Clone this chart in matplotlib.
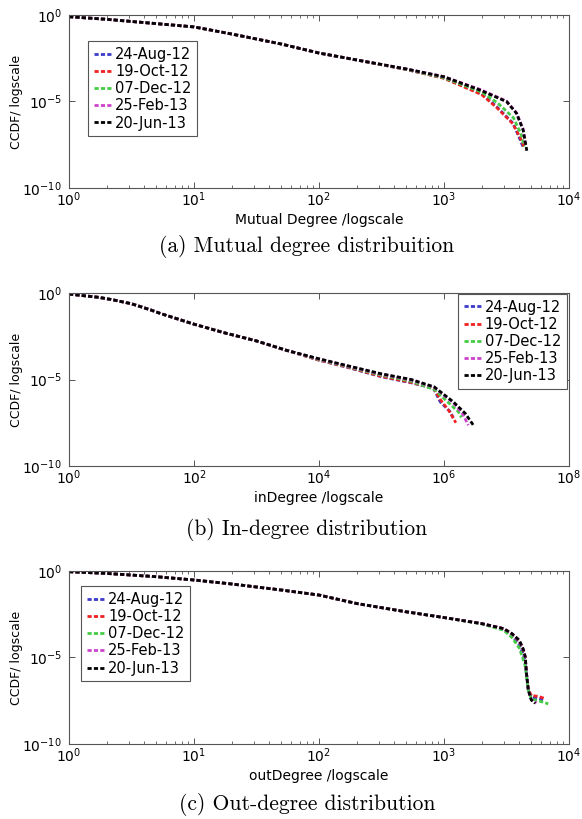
import numpy as np
import matplotlib
matplotlib.use('Agg')
from matplotlib import pyplot as plt
from matplotlib.ticker import LogLocator, NullLocator, FixedLocator

plt.rcParams['font.family'] = ['DejaVu Sans']
plt.rcParams['mathtext.default'] = 'regular'

dates = ['24-Aug-12', '19-Oct-12', '07-Dec-12', '25-Feb-13', '20-Jun-13']
colors = ['#3c3cc8', '#ee2222', '#44cc44', '#cc44cc', '#000000']

# (a) mutual degree, CCDF given as log10 values
mut_x_aug = [1, 2, 5, 10, 20, 50, 100, 200, 500, 1000, 2000, 2640, 3570, 4060, 4300]
mut_y_aug = [-0.1, -0.25, -0.5, -0.69, -1.1, -1.68, -2.2, -2.6, -3.15, -3.65, -4.55, -5.3, -6.26, -7.2, -7.65]
mut_x_oct = [1, 2, 5, 10, 20, 50, 100, 200, 500, 1000, 2000, 2640, 3570, 4100, 4350]
mut_y_oct = [-0.1, -0.25, -0.5, -0.69, -1.1, -1.68, -2.2, -2.6, -3.15, -3.66, -4.6, -5.35, -6.3, -7.15, -7.6]
mut_x_dec = [1, 2, 5, 10, 20, 50, 100, 200, 500, 1000, 2000, 2700, 3600, 4150, 4400]
mut_y_dec = [-0.1, -0.25, -0.5, -0.69, -1.1, -1.68, -2.2, -2.6, -3.14, -3.63, -4.45, -5.1, -5.95, -6.9, -7.6]
mut_x_feb = [1, 2, 5, 10, 20, 50, 100, 200, 500, 1000, 1940, 3170, 3800, 4300, 4500]
mut_y_feb = [-0.1, -0.25, -0.5, -0.69, -1.1, -1.68, -2.2, -2.6, -3.12, -3.57, -4.3, -4.98, -5.65, -6.6, -7.6]
mut_x_jun = [1, 2, 5, 10, 20, 50, 100, 200, 500, 1000, 1940, 3170, 3800, 4300, 4600]
mut_y_jun = [-0.1, -0.25, -0.5, -0.69, -1.1, -1.68, -2.2, -2.6, -3.12, -3.57, -4.34, -5.01, -5.68, -6.65, -7.85]

# (b) in-degree
in_x_aug = [1, 3, 5, 10, 20, 30, 100, 300, 1e3, 3e3, 1e4, 3e4, 1e5, 3e5, 6.8e5, 8.7e5, 1.26e6, 1.45e6]
in_y_aug = [-0.06, -0.25, -0.39, -0.62, -0.97, -1.2, -1.8, -2.29, -2.77, -3.31, -3.88, -4.32, -4.84, -5.19, -5.51, -6.29, -6.87, -7.3]
in_x_oct = [1, 3, 5, 10, 20, 30, 100, 300, 1e3, 3e3, 1e4, 3e4, 1e5, 3e5, 6.8e5, 8.9e5, 1.2e6, 1.55e6]
in_y_oct = [-0.06, -0.25, -0.39, -0.62, -0.97, -1.2, -1.8, -2.29, -2.77, -3.31, -3.88, -4.3, -4.82, -5.17, -5.5, -6.2, -6.8, -7.5]
in_x_dec = [1, 3, 5, 10, 20, 30, 100, 300, 1e3, 3e3, 1e4, 3e4, 1e5, 3e5, 7.2e5, 1.0e6, 1.7e6, 1.9e6]
in_y_dec = [-0.06, -0.25, -0.39, -0.62, -0.97, -1.2, -1.8, -2.29, -2.77, -3.31, -3.85, -4.27, -4.75, -5.1, -5.6, -6.1, -6.87, -7.19]
in_x_feb = [1, 3, 5, 10, 20, 30, 100, 300, 1e3, 3e3, 1e4, 3e4, 1e5, 3e5, 7e5, 8.1e5, 1.41e6, 2.0e6, 2.45e6]
in_y_feb = [-0.06, -0.25, -0.39, -0.62, -0.97, -1.2, -1.8, -2.29, -2.77, -3.31, -3.82, -4.24, -4.7, -5.03, -5.45, -5.65, -6.35, -7.0, -7.64]
in_x_jun = [1, 3, 5, 10, 20, 30, 100, 300, 1e3, 3e3, 1e4, 3e4, 1e5, 3e5, 7e5, 8.1e5, 1.41e6, 2.19e6, 2.95e6]
in_y_jun = [-0.06, -0.25, -0.39, -0.62, -0.97, -1.2, -1.8, -2.29, -2.77, -3.31, -3.8, -4.22, -4.67, -5.0, -5.43, -5.61, -6.29, -6.96, -7.64]

# (c) out-degree
out_x_aug = [1, 2, 5, 10, 20, 50, 100, 200, 500, 1000, 2000, 3000, 3500, 4000, 4300, 4470, 4570, 4730, 5000, 5600, 6200]
out_y_aug = [-0.04, -0.14, -0.33, -0.52, -0.75, -1.1, -1.39, -1.88, -2.36, -2.69, -3.04, -3.35, -3.72, -4.25, -4.8, -5.2, -5.95, -6.9, -7.3, -7.35, -7.45]
out_x_oct = [1, 2, 5, 10, 20, 50, 100, 200, 500, 1000, 2000, 3000, 3500, 4000, 4300, 4470, 4570, 4730, 5000, 5700, 6450]
out_y_oct = [-0.04, -0.14, -0.33, -0.52, -0.75, -1.1, -1.39, -1.88, -2.36, -2.69, -3.04, -3.34, -3.65, -4.05, -4.55, -5.0, -5.9, -6.85, -7.2, -7.25, -7.38]
out_x_dec = [1, 2, 5, 10, 20, 50, 100, 200, 500, 1000, 2000, 3000, 3500, 4000, 4300, 4470, 4570, 4730, 5000, 6000, 6830]
out_y_dec = [-0.04, -0.14, -0.33, -0.52, -0.75, -1.1, -1.39, -1.88, -2.36, -2.69, -3.06, -3.42, -3.85, -4.45, -5.1, -5.5, -6.1, -6.9, -7.4, -7.55, -7.68]
out_x_feb = [1, 2, 5, 10, 20, 50, 100, 200, 500, 1000, 2000, 3000, 3500, 4000, 4300, 4470, 4570, 4730, 5000, 5500]
out_y_feb = [-0.04, -0.14, -0.33, -0.52, -0.75, -1.1, -1.39, -1.88, -2.36, -2.69, -3.04, -3.33, -3.63, -4.02, -4.52, -4.97, -5.92, -6.88, -7.45, -7.62]
out_x_jun = [1, 2, 5, 10, 20, 50, 100, 200, 500, 1000, 2000, 3000, 3500, 4000, 4300, 4470, 4570, 4730, 5000, 5370]
out_y_jun = [-0.04, -0.14, -0.33, -0.52, -0.75, -1.1, -1.39, -1.88, -2.36, -2.69, -3.04, -3.33, -3.62, -4.0, -4.5, -4.95, -5.91, -6.88, -7.46, -7.65]


def draw_panel(ax, xs, ys, xlabel, xmax, xticks, minor, leg_loc, leg_anchor):
    for x, y, c, lab in zip(xs, ys, colors, dates):
        ax.plot(x, np.power(10.0, y), color=c, lw=2.0, ls=(0, (1.5, 0.8)), label=lab)
    ax.set_xscale('log')
    ax.set_yscale('log')
    ax.set_xlim(1, xmax)
    ax.set_ylim(1e-10, 1)
    ax.xaxis.set_major_locator(FixedLocator(xticks))
    if minor:
        ax.xaxis.set_minor_locator(LogLocator(base=10, subs=np.arange(2, 10)))
    else:
        ax.xaxis.set_minor_locator(NullLocator())
    ax.yaxis.set_major_locator(FixedLocator([1e-10, 1e-5, 1]))
    ax.yaxis.set_minor_locator(NullLocator())
    ax.tick_params(which='both', direction='in', top=True, right=True,
                   color='#555555', labelsize=10)
    ax.tick_params(which='major', length=4, width=0.7)
    ax.tick_params(axis='x', which='major', pad=2)
    ax.tick_params(axis='y', which='major', pad=5)
    ax.tick_params(which='minor', length=2, width=0.6)
    for s in ax.spines.values():
        s.set_color('#555555')
        s.set_linewidth(0.8)
    ax.set_xlabel(xlabel, fontsize=10)
    ax.xaxis.set_label_coords(0.5, -0.185)
    ax.xaxis.label.set_va('center')
    ax.set_ylabel('CCDF/ logscale', fontsize=9)
    ax.yaxis.set_label_coords(-0.105, 0.5)
    ax.yaxis.label.set_va('center')
    leg = ax.legend(loc=leg_loc, bbox_to_anchor=leg_anchor, borderaxespad=0,
                    fontsize=10.5, fancybox=False, framealpha=1,
                    handlelength=1.3, handletextpad=0.15, labelspacing=0.15,
                    borderpad=0.4)
    leg.get_frame().set_edgecolor('#555555')
    leg.get_frame().set_linewidth(0.8)


fig = plt.figure(figsize=(5.82, 8.19), dpi=100)
ax1 = fig.add_axes([0.1186, 0.7705, 0.859, 0.2112])
ax2 = fig.add_axes([0.1186, 0.431, 0.859, 0.2112])
ax3 = fig.add_axes([0.1186, 0.0916, 0.859, 0.2112])

draw_panel(ax1, [mut_x_aug, mut_x_oct, mut_x_dec, mut_x_feb, mut_x_jun],
           [mut_y_aug, mut_y_oct, mut_y_dec, mut_y_feb, mut_y_jun],
           'Mutual Degree /logscale', 1e4, [1, 10, 100, 1000, 1e4], True,
           'upper left', (0.038, 0.85))
draw_panel(ax2, [in_x_aug, in_x_oct, in_x_dec, in_x_feb, in_x_jun],
           [in_y_aug, in_y_oct, in_y_dec, in_y_feb, in_y_jun],
           'inDegree /logscale', 1e8, [1, 1e2, 1e4, 1e6, 1e8], False,
           'upper right', (0.996, 0.996))
draw_panel(ax3, [out_x_aug, out_x_oct, out_x_dec, out_x_feb, out_x_jun],
           [out_y_aug, out_y_oct, out_y_dec, out_y_feb, out_y_jun],
           'outDegree /logscale', 1e4, [1, 10, 100, 1000, 1e4], True,
           'upper left', (0.024, 0.913))

fig.text(307 / 582, 0.699, '(a) Mutual degree distribuition', family='cmr10',
         fontsize=15.5, ha='center', va='center')
fig.text(307 / 582, 0.353, '(b) In-degree distribution', family='cmr10',
         fontsize=15.5, ha='center', va='center')
fig.text(307 / 582, 0.0171, '(c) Out-degree distribution', family='cmr10',
         fontsize=15.5, ha='center', va='center')

fig.savefig('out.png', dpi=100)
